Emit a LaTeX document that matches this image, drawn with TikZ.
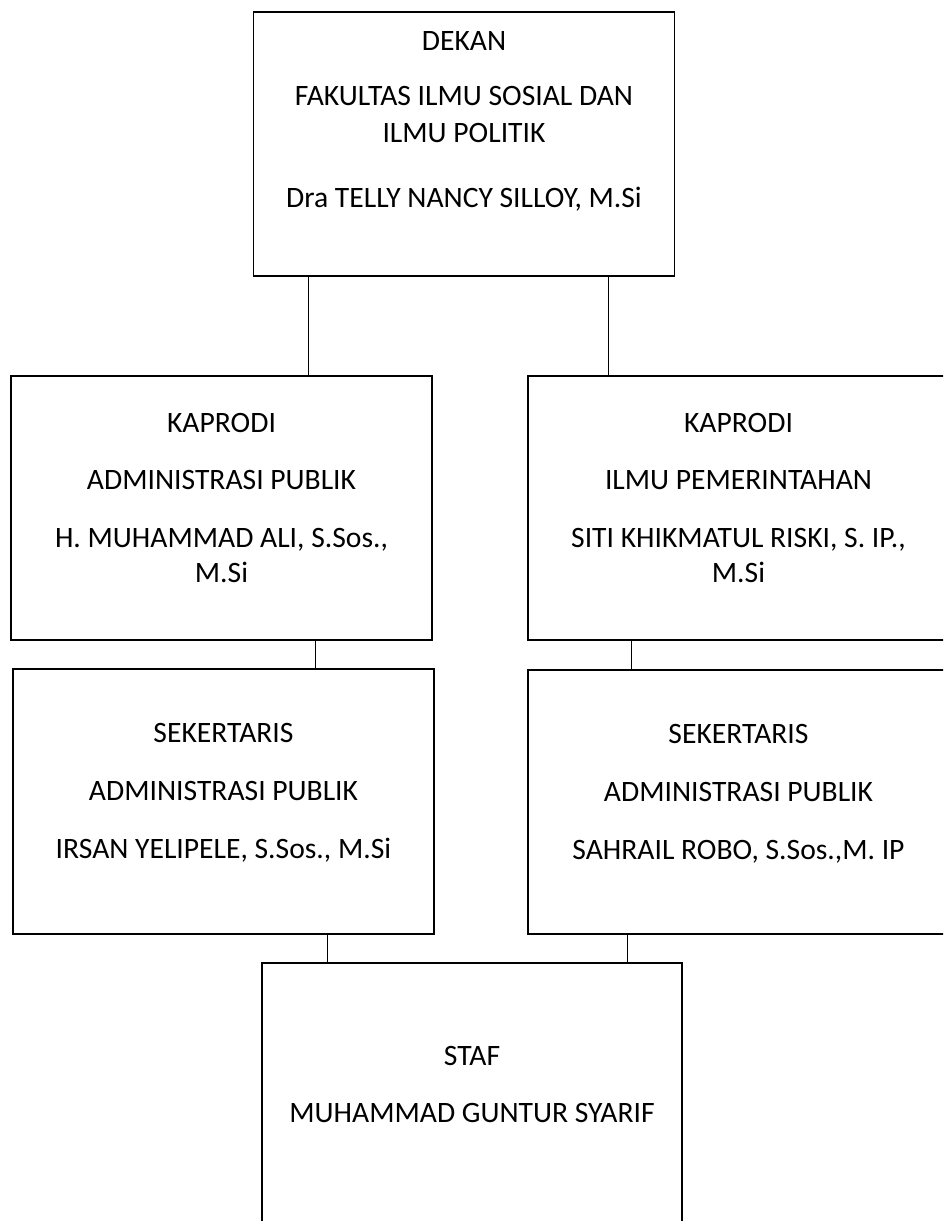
\documentclass[tikz,border=0pt]{standalone}
\usepackage{fontspec}
\setmainfont{Carlito}
\usetikzlibrary{positioning}

\begin{document}
\begin{tikzpicture}[x=1pt, y=-1pt,
        box/.style={draw, line width=1.8pt, minimum width=421pt, minimum height=264pt, inner sep=0pt},
        boxtext/.style={align=center, inner sep=0pt, font=\fontsize{29.6}{36}\selectfont},
        link/.style={line width=0.9pt}]
        \clip (0,0) rectangle (943,1221);
        \fill[white] (0,0) rectangle (943,1221);

        \node[box] (dekan) at (464,144) {};
        \node[box] (kaprodiap) at (221.5,508) {};
        \node[box] (kaprodiip) at (738.5,508) {};
        \node[box, minimum height=265pt] (sekap) at (223.5,801.5) {};
        \node[box] (sekip) at (738.5,802) {};
        \node[box, minimum width=420pt, minimum height=400pt] (staf) at (472,1163) {};

        \node[boxtext, below=20pt of dekan.north] (dekantext) {DEKAN\\[19pt] FAKULTAS ILMU SOSIAL DAN\\[1pt] ILMU POLITIK\\[29pt] Dra TELLY NANCY SILLOY, M.Si};
        \node[boxtext, below=38pt of kaprodiap.north] (kaprodiaptext) {KAPRODI\\[21pt] ADMINISTRASI PUBLIK\\[22pt] H. MUHAMMAD ALI, S.Sos.,\\[-1pt] M.Si};
        \node[boxtext, below=38pt of kaprodiip.north] (kaprodiiptext) {KAPRODI\\[21pt] ILMU PEMERINTAHAN\\[22pt] SITI KHIKMATUL RISKI, S. IP.,\\[-1pt] M.Si};
        \node[boxtext, below=55pt of sekap.north] (sekaptext) {SEKERTARIS\\[21.5pt] ADMINISTRASI PUBLIK\\[22.5pt] IRSAN YELIPELE, S.Sos., M.Si};
        \node[boxtext, below=55pt of sekip.north] (sekiptext) {SEKERTARIS\\[21.5pt] ADMINISTRASI PUBLIK\\[22.5pt] SAHRAIL ROBO, S.Sos.,M. IP};
        \node[boxtext, below=84pt of staf.north] (staftext) {STAF\\[21pt] MUHAMMAD GUNTUR SYARIF};

        \draw[link] ([xshift=86.5pt]kaprodiap.north) -- ([xshift=86.5pt]kaprodiap.north |- dekan.south);
        \draw[link] ([xshift=-130.5pt]kaprodiip.north) -- ([xshift=-130.5pt]kaprodiip.north |- dekan.south);
        \draw[link] ([xshift=91.5pt]sekap.north) -- ([xshift=91.5pt]sekap.north |- kaprodiap.south);
        \draw[link] ([xshift=-107.5pt]sekip.north) -- ([xshift=-107.5pt]sekip.north |- kaprodiip.south);
        \draw[link] ([xshift=-145pt]staf.north) -- ([xshift=-145pt]staf.north |- sekap.south);
        \draw[link] ([xshift=155pt]staf.north) -- ([xshift=155pt]staf.north |- sekip.south);
    \end{tikzpicture}
\end{document}
